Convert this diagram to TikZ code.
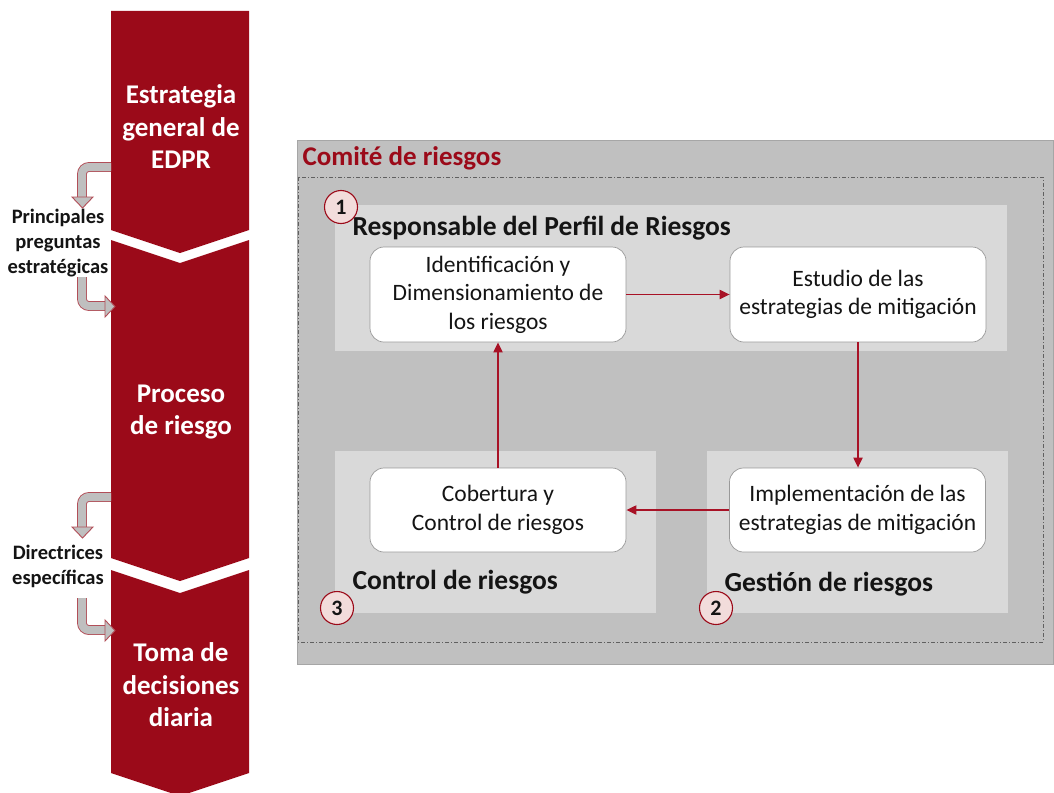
\documentclass[tikz,border=0pt]{standalone}
\usepackage{fontspec}
\setmainfont{Carlito}
\usetikzlibrary{arrows.meta}
\definecolor{colred}{RGB}{155,10,25}
\definecolor{arrred}{RGB}{168,18,38}
\definecolor{outergray}{RGB}{192,192,192}
\definecolor{panelgray}{RGB}{217,217,217}
\definecolor{bandgray}{RGB}{191,191,191}
\definecolor{bandline}{RGB}{178,78,88}
\definecolor{pinkfill}{RGB}{242,220,219}
\definecolor{txt}{RGB}{20,20,20}
\tikzset{
  colseg/.style={fill=colred, draw=none},
  coltext/.style={text=white, font=\fontsize{27}{32.5}\selectfont\bfseries, align=center},
  sidetext/.style={text=txt, font=\fontsize{20.5}{25}\selectfont\bfseries, align=center},
  band/.style={draw=bandline, line width=0.9pt, double=bandgray, double distance=8pt, rounded corners=7pt},
  bandhead/.style={fill=bandgray, draw=bandline, line width=0.9pt, line join=miter},
  panel/.style={fill=panelgray, draw=none},
  wbox/.style={fill=white, draw=gray!80, line width=0.7pt, rounded corners=14pt, minimum width=256pt, minimum height=95pt, align=center, font=\fontsize{23.5}{28.5}\selectfont, text=txt},
  wbox2/.style={wbox, minimum height=84pt},
  heading/.style={font=\fontsize{27.5}{30}\selectfont\bfseries, text=txt, anchor=west},
  numc/.style={circle, fill=pinkfill, draw=colred, line width=1.1pt, minimum size=33pt, inner sep=0pt, font=\fontsize{22}{24}\selectfont\bfseries, text=txt},
  flow/.style={draw=arrred, line width=1.9pt, -{Triangle[length=10pt,width=9pt]}}
}
\begin{document}
\begin{tikzpicture}[x=1pt,y=-1pt]
\useasboundingbox (0,0) rectangle (1054,792);
% left column
\fill[colseg] (111,11) -- (249,11) -- (249,230) -- (180,253) -- (111,230) -- cycle;
\fill[colseg] (111,240) -- (180,263) -- (249,240) -- (249,558) -- (180,581) -- (111,558) -- cycle;
\fill[colseg] (111,570) -- (180,593) -- (249,570) -- (249,773) -- (180,796) -- (111,773) -- cycle;
\node[coltext] (s1) at (181,127) {Estrategia\\general de\\EDPR};
\node[coltext] (s2) at (181,412) {Proceso\\de riesgo};
\node[coltext] (s3) at (181,685) {Toma de\\decisiones\\diaria};
\node[sidetext] (q1) at (58,243) {Principales\\preguntas\\estratégicas};
\node[sidetext] (q2) at (58,566) {Directrices\\específicas};
% side arrows
\coordinate (a1s) at (111,167);
\coordinate (a1c) at (82,167);
\coordinate (a1e) at (82,199);
\draw[band] (a1s) -- (a1c) -- (a1e);
\draw[bandhead] (72,197) -- (93,197) -- (82.5,208) -- cycle;
\coordinate (a2s) at (82,277);
\coordinate (a2c) at (82,306);
\coordinate (a2e) at (107,306);
\draw[band] (a2s) -- (a2c) -- (a2e);
\draw[bandhead] (105,296) -- (115,306.5) -- (105,317) -- cycle;
\coordinate (a3s) at (111,497);
\coordinate (a3c) at (82,497);
\coordinate (a3e) at (82,529);
\draw[band] (a3s) -- (a3c) -- (a3e);
\draw[bandhead] (72,527) -- (93,527) -- (82.5,538) -- cycle;
\coordinate (a4s) at (82,598);
\coordinate (a4c) at (82,630);
\coordinate (a4e) at (107,630);
\draw[band] (a4s) -- (a4c) -- (a4e);
\draw[bandhead] (105,620) -- (115,630.5) -- (105,641) -- cycle;
% right panel
\filldraw[fill=outergray, draw=gray!70, line width=0.7pt] (297,140) rectangle (1053,664);
\draw[gray!75!black, line width=0.6pt, dash pattern=on 4pt off 2pt on 1pt off 2pt] (298,177) rectangle (1043,642);
\node[anchor=west, text=colred, font=\fontsize{27}{30}\selectfont\bfseries] (com) at (299,158) {Comité de riesgos};
\fill[panel] (335,205) rectangle (1007,351);
\fill[panel] (335,451) rectangle (656,613);
\fill[panel] (707,451) rectangle (1008,613);
\node[wbox] (A) at (498,294.5) {Identificación y\\Dimensionamiento de\\los riesgos};
\node[wbox] (B) at (858,294.5) {Estudio de las\\estrategias de mitigación};
\node[wbox2] (C) at (498,510) {Cobertura y\\Control de riesgos};
\node[wbox2] (D) at (857.5,510) {Implementación de las\\estrategias de mitigación};
\draw[flow] (A.east) -- (B.west);
\draw[flow] (B.south) -- (B.south |- D.north);
\draw[flow] (D.west) -- (C.east);
\draw[flow] (C.north) -- (A.south);
\node[heading] (h1) at (349,228) {Responsable del Perfil de Riesgos};
\node[heading] (h3) at (349,582) {Control de riesgos};
\node[heading] (h2) at (721,584) {Gestión de riesgos};
\node[numc] (n1) at (341,207) {1};
\node[numc] (n3) at (337,608) {3};
\node[numc] (n2) at (716,608) {2};
\end{tikzpicture}
\end{document}
